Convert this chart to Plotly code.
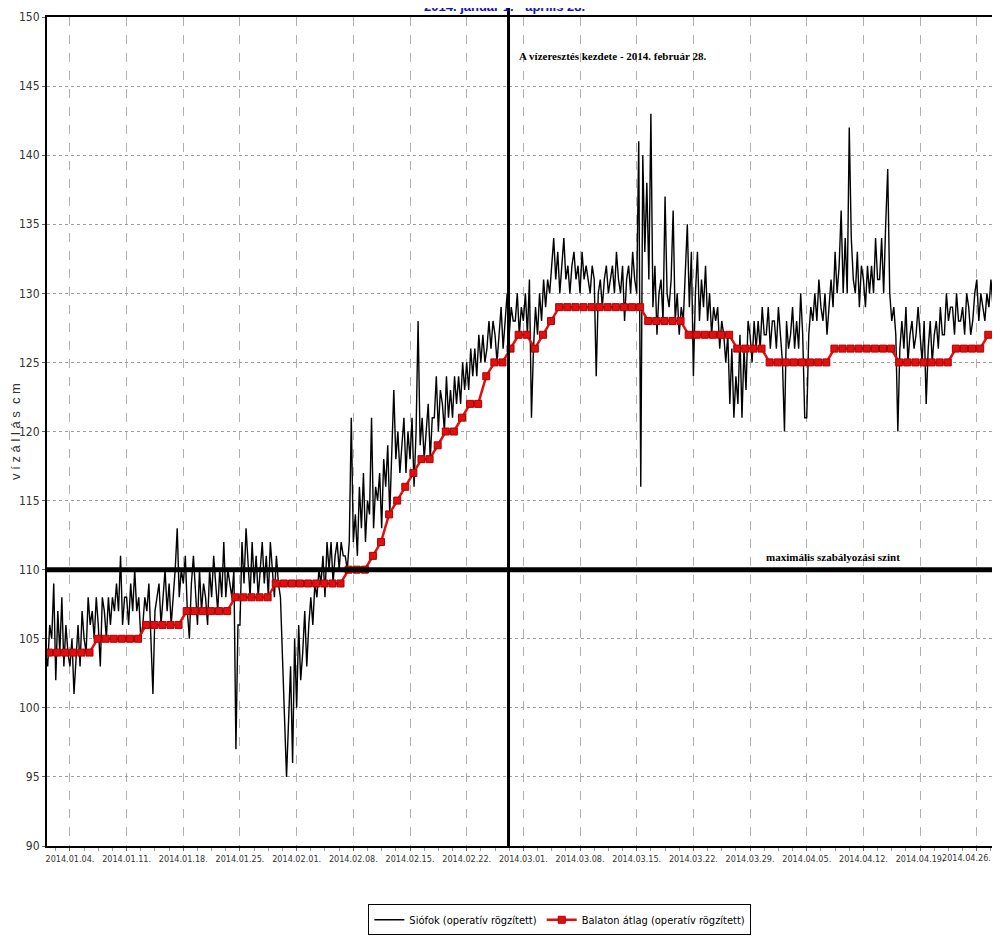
import plotly.graph_objects as go
import pandas as pd

# Siófok, operatív rögzített (6 óránként: 00, 06, 12, 18)
siofok_jan = [
    104, 103, 106, 105, 109, 102, 107, 104, 108, 103, 106, 104, 103, 105, 101, 104,
    106, 103, 107, 105, 104, 108, 106, 107, 105, 108, 106, 103, 108, 107, 105, 108,
    106, 108, 107, 109, 107, 111, 106, 108, 108, 106, 109, 107, 110, 107, 108, 105,
    106, 108, 107, 109, 105, 101, 107, 108, 109, 106, 108, 110, 107, 109, 106, 108,
    110, 113, 108, 110, 109, 111, 107, 105, 109, 111, 108, 106, 110, 107, 109, 108,
    106, 110, 108, 111, 109, 107, 110, 108, 112, 108, 110, 109, 108, 110, 97, 106,
    106, 112, 109, 113, 110, 108, 112, 109, 111, 108, 110, 112, 109, 111, 108, 112,
    110, 108, 111, 109, 108, 104, 100, 95, 99, 103, 96, 105,
]
siofok_feb = [
    100, 106, 102, 104, 107, 103, 106, 108, 106, 109, 108, 110, 109, 111, 108, 112,
    110, 112, 109, 111, 112, 110, 112, 111, 111, 110, 112, 121, 112, 114, 111, 116,
    113, 117, 112, 115, 114, 121, 113, 116, 115, 117, 113, 118, 116, 119, 114, 118,
    123, 118, 120, 117, 119, 121, 117, 120, 118, 121, 116, 120, 128, 119, 121, 118,
    120, 122, 118, 121, 121, 124, 120, 123, 122, 120, 124, 121, 123, 121, 124, 122,
    124, 122, 125, 123, 125, 123, 126, 124, 126, 124, 127, 125, 127, 125, 126, 128,
    126, 128, 127, 125, 127, 129, 126, 128, 130, 127, 129, 128, 128, 130, 127, 129,
]
siofok_mar = [
    128, 130, 127, 131, 121, 126, 129, 127, 130, 128, 131, 129, 131, 130, 132, 134,
    131, 133, 130, 132, 134, 131, 132, 130, 132, 133, 131, 132, 130, 133, 131, 132,
    131, 130, 132, 131, 124, 130, 131, 129, 131, 132, 130, 131, 132, 130, 133, 131,
    130, 132, 128, 131, 132, 130, 133, 131, 130, 141, 116, 140, 133, 138, 131, 143,
    129, 132, 127, 130, 131, 128, 137, 130, 129, 131, 136, 128, 130, 127, 129, 128,
    131, 135, 129, 133, 124, 130, 133, 128, 131, 129, 132, 128, 130, 127, 129, 128,
    129, 126, 128, 127, 125, 127, 122, 126, 121, 124, 122, 127, 121, 126, 123, 128,
    127, 125, 128, 126, 128, 126, 129, 127, 127, 129, 126, 128,
]
siofok_apr = [
    128, 126, 129, 127, 125, 120, 128, 126, 127, 129, 126, 128, 126, 130, 127, 121,
    121, 127, 129, 128, 130, 128, 131, 129, 128, 130, 127, 129, 131, 129, 133, 130,
    132, 136, 130, 134, 130, 142, 134, 131, 130, 133, 129, 132, 131, 129, 132, 130,
    132, 130, 134, 131, 131, 134, 130, 135, 139, 130, 128, 129, 127, 120, 126, 128,
    126, 129, 125, 127, 128, 126, 127, 129, 127, 125, 128, 122, 126, 128, 125, 127,
    128, 126, 129, 127, 127, 130, 128, 129, 129, 127, 130, 128, 128, 129, 127, 130,
    129, 127, 128, 130, 131, 128, 130, 129, 128, 130, 129, 131, 129,
]

# Balaton átlag, operatív rögzített (napi)
balaton_jan = [104] * 6 + [105] * 6 + [106] * 5 + [107] * 6 + [108] * 5 + [109] * 3
balaton_feb = [109] * 6 + [110, 110, 110, 111, 112, 114, 115, 116, 117, 118, 118,
                           119, 120, 120, 121, 122, 122, 124, 125, 125, 126, 127]
balaton_mar = [127, 126, 127, 128] + [129] * 11 + [128] * 5 + [127] * 6 + [126] * 4 + [125]
balaton_apr = [125] * 7 + [126] * 8 + [125] * 7 + [126] * 4 + [127]

tick_dates = ['2014-01-04', '2014-01-11', '2014-01-18', '2014-01-25', '2014-02-01',
              '2014-02-08', '2014-02-15', '2014-02-22', '2014-03-01', '2014-03-08',
              '2014-03-15', '2014-03-22', '2014-03-29', '2014-04-05', '2014-04-12',
              '2014-04-19', '2014-04-26']
tick_labels = [d.replace('-', '.') + '.' for d in tick_dates]

siofok = siofok_jan + siofok_feb + siofok_mar + siofok_apr
balaton = balaton_jan + balaton_feb + balaton_mar + balaton_apr

siofok_t = pd.date_range('2014-01-01 00:00', periods=len(siofok), freq='6h')
balaton_t = pd.date_range('2014-01-01 10:00', periods=len(balaton), freq='D')

narrow = 'Liberation Sans Narrow, DejaVu Sans Condensed, Arial Narrow, Liberation Sans, sans-serif'
serif = 'Liberation Serif, Times New Roman, serif'
tickfont = dict(family=narrow, size=9, color='#333333')

fig = go.Figure()
fig.add_trace(go.Scatter(x=siofok_t, y=siofok, mode='lines', name='Siófok (operatív rögzített)',
                         line=dict(color='black', width=1.4)))
fig.add_trace(go.Scatter(x=balaton_t, y=balaton, mode='lines+markers',
                         name='Balaton átlag (operatív rögzített)',
                         line=dict(color='#e01010', width=2.5),
                         marker=dict(symbol='square', size=7, color='#e01010',
                                     line=dict(color='#b00000', width=1))))

# maximális szabályozási szint
fig.add_shape(type='line', xref='paper', x0=0, x1=1, yref='y', y0=110, y1=110,
              line=dict(color='black', width=5))
# vízeresztés kezdete
fig.add_shape(type='line', xref='x', x0='2014-02-27 04:00', x1='2014-02-27 04:00',
              yref='paper', y0=0, y1=1.011, line=dict(color='black', width=3))

fig.add_annotation(x='2014-02-28 04:00', y=147.2, xref='x', yref='y', xanchor='left',
                   text='<b>A vízeresztés kezdete - 2014. február 28.</b>', showarrow=False,
                   font=dict(family=serif, size=11, color='black'))
fig.add_annotation(x='2014-04-08 06:00', y=110.9, xref='x', yref='y', xanchor='center',
                   text='<b>maximális szabályozási szint</b>', showarrow=False,
                   font=dict(family=serif, size=11, color='black'))
fig.add_annotation(x=0.483, y=1.0121, xref='paper', yref='paper', yanchor='middle',
                   text='<b>2014. január 1. - április 28.</b>', showarrow=False,
                   font=dict(family='Liberation Sans, Arial, sans-serif', size=13, color='#1010d0'))
# last date label sits at the right edge, drawn right-aligned so it stays on the page
fig.add_annotation(x=tick_dates[-1], y=-0.0145, xref='x', yref='paper', xanchor='right',
                   yanchor='middle', xshift=15, text=tick_labels[-1], showarrow=False,
                   font=tickfont, borderpad=0)

fig.update_xaxes(range=['2014-01-01 04:00', '2014-04-28 06:00'],
                 tickvals=tick_dates, ticktext=tick_labels[:-1] + [''], tickangle=0,
                 automargin=False, ticklabeloverflow='allow', tickfont=tickfont,
                 showgrid=True, gridcolor='#b0b0b0', griddash='dash', gridwidth=1,
                 showline=True, linecolor='black', linewidth=2, mirror=True,
                 ticks='outside', ticklen=3, tickcolor='#666666',
                 minor=dict(dtick=151200000, tick0='2014-01-04', ticks='outside',
                            ticklen=3, tickcolor='#999999', showgrid=False))
fig.update_yaxes(range=[90, 150], dtick=5, tick0=90, automargin=False,
                 tickfont=dict(family=narrow, size=12, color='#333333'),
                 showgrid=True, gridcolor='#a0a0a0', griddash='dot', gridwidth=1,
                 showline=True, linecolor='black', linewidth=2, mirror=True,
                 ticks='outside', ticklen=3, tickcolor='#666666', zeroline=False,
                 title=dict(text='v í z á l l á s  c m', standoff=6,
                            font=dict(family='Liberation Sans, Arial, sans-serif', size=13,
                                      color='#333333')))

# the page adds an 8px body margin, so the margins are shifted to put the plot where the reference has it
fig.update_layout(width=992, height=932, plot_bgcolor='white', paper_bgcolor='white',
                  margin=dict(l=39, r=5, t=9, b=94),
                  showlegend=True,
                  legend=dict(orientation='h', x=0.541, xanchor='center', y=-0.089,
                              yanchor='middle', bgcolor='white', bordercolor='black',
                              borderwidth=1, font=dict(family=narrow, size=11, color='black'),
                              itemwidth=30, tracegroupgap=0))

fig.write_html('out.html')
